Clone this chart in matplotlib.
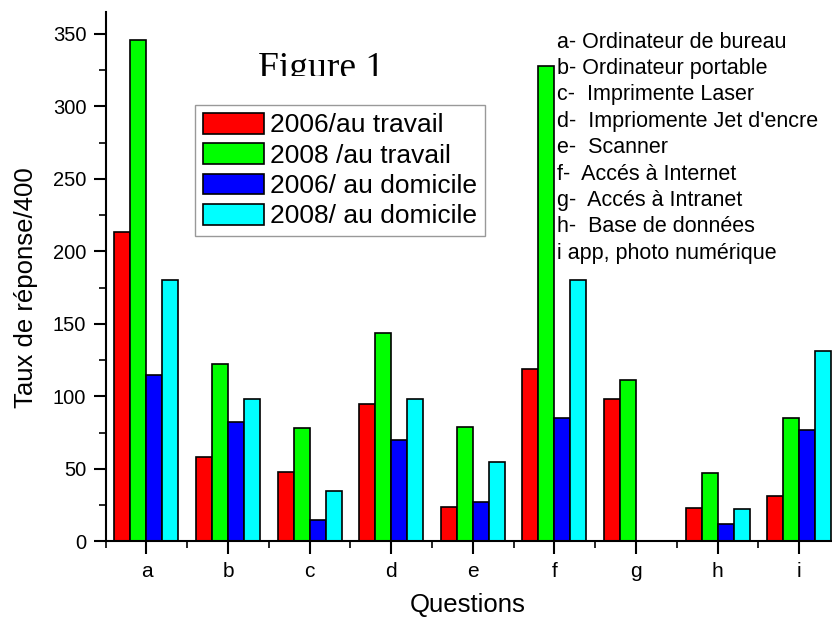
import numpy as np
import matplotlib
matplotlib.use("Agg")
import matplotlib.pyplot as plt
from matplotlib.ticker import MultipleLocator, FixedLocator
from matplotlib.transforms import Bbox, TransformedBbox

# data
questions = ["a", "b", "c", "d", "e", "f", "g", "h", "i"]
series_names = ["2006/au travail", "2008 /au travail", "2006/ au domicile", "2008/ au domicile"]
travail_2006 = [213, 58, 48, 95, 24, 119, 98, 23, 31]
travail_2008 = [346, 122, 78, 144, 79, 328, 111, 47, 85]
domicile_2006 = [115, 82, 15, 70, 27, 85, 0, 12, 77]
domicile_2008 = [180, 98, 35, 98, 55, 180, 0, 22, 131]
descriptions = [
    "a- Ordinateur de bureau",
    "b- Ordinateur portable",
    "c-  Imprimente Laser",
    "d-  Impriomente Jet d'encre",
    "e-  Scanner",
    "f-  Accés à Internet",
    "g-  Accés à Intranet",
    "h-  Base de données",
    "i app, photo numérique",
]
colors = ["#ff0000", "#00ff00", "#0000ff", "#00ffff"]

plt.rcParams["font.family"] = ["Liberation Sans", "DejaVu Sans"]

fig = plt.figure(figsize=(8.32, 6.18), dpi=100)
ax = fig.add_axes([0.127, 0.124, 0.8825, 0.8565])

x = np.arange(len(questions))
w = 0.196
all_series = [travail_2006, travail_2008, domicile_2006, domicile_2008]
for k, (vals, name, col) in enumerate(zip(all_series, series_names, colors)):
    ax.bar(x + (k - 1.5) * w, vals, w, color=col, edgecolor="black",
           linewidth=1.2, label=name)

ax.set_xlim(-0.5, len(questions) - 0.5)
ax.set_ylim(0, 365)
ax.set_xticks(x)
ax.set_xticklabels(questions, fontsize=15)
ax.xaxis.set_minor_locator(FixedLocator(np.arange(-0.5, len(questions), 1.0)))
ax.yaxis.set_major_locator(MultipleLocator(50))
ax.yaxis.set_minor_locator(MultipleLocator(25))
ax.tick_params(axis="both", which="major", length=9, width=1.5, direction="out")
ax.tick_params(axis="y", labelsize=14.5, pad=5)
ax.tick_params(axis="both", which="minor", length=5, width=1.2, direction="out")
ax.tick_params(axis="x", pad=6)
for s in ["top", "right"]:
    ax.spines[s].set_visible(False)
for s in ["left", "bottom"]:
    ax.spines[s].set_linewidth(1.5)

ax.set_xlabel("Questions", fontsize=18.5)
ax.set_ylabel("Taux de réponse/400", fontsize=18.5)
ax.yaxis.set_label_coords(-0.092, 0.4795)
ax.xaxis.set_label_coords(0.4934, -0.097)

leg = ax.legend(loc="upper left", bbox_to_anchor=(0.1216, 0.8243), borderaxespad=0,
                fontsize=19, handlelength=2.3, handleheight=0.83, labelspacing=0.22,
                handletextpad=0.25, borderpad=0.3, fancybox=False, framealpha=1)
leg.get_frame().set_edgecolor("#999999")
leg.get_frame().set_linewidth(1.0)

# title text, cut off at its baseline like in the scan
title = fig.text(321.5 / 832, 1 - 78 / 618, "Figure 1", fontsize=27,
                 family=["Liberation Serif", "DejaVu Serif"], ha="center", va="baseline")
clip = TransformedBbox(Bbox([[0, 1 - 75.5 / 618], [1, 1]]), fig.transFigure)
title.set_clip_box(clip)
title.set_clip_on(True)

for i, line in enumerate(descriptions):
    fig.text(0.670, 1 - (42 + i * 26.4) / 618, line, fontsize=15.5, va="center", ha="left")

fig.savefig("out.png", dpi=100)
